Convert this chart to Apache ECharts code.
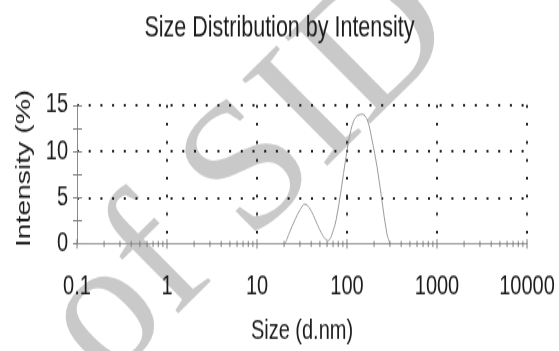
<!DOCTYPE html>
<html><head><meta charset="utf-8">
<script src="https://cdn.jsdelivr.net/npm/echarts@6/dist/echarts.min.js"></script>
<style>
html,body{margin:0;padding:0;background:#fff;overflow:hidden}
#wrap{width:559px;height:351px;overflow:hidden;position:relative;background:#fff}
#chart{width:559px;height:260px;transform:scaleY(1.35);transform-origin:0 0}
</style></head><body>
<div id="wrap"><div id="chart"></div></div>
<script>
// Data (size in d.nm, intensity in %)
const sizes = [20.5, 23.1, 26.4, 29.7, 34.0, 38.2, 42.3, 46.8, 51.8, 56.6, 61.8, 68.4, 75.7, 85.9, 97.5, 110.5, 125.3, 148, 168, 190, 216, 244, 277, 301];
const intensity = [0, 1.3, 2.6, 3.6, 4.3, 3.9, 3.1, 2.1, 1.2, 0.6, 0.35, 1.1, 2.6, 5.8, 9.4, 12.3, 13.7, 14.0, 13.4, 11.2, 8.3, 4.75, 1.15, 0];
const baselineSizes = [0.1, 20.5, 301, 10000];
const baselineValues = [0, 0, 0, 0];
const xTickLabels = ['0.1', '1', '10', '100', '1000', '10000'];
const xDecades = [0.1, 1, 10, 100, 1000, 10000];
const xMinorMultipliers = [2, 3, 4, 5, 6, 7, 8, 9];
const yTickValues = [0, 5, 10, 15];

const xMinorTicks = [];
xDecades.slice(0, -1).forEach(d => xMinorMultipliers.forEach(m => xMinorTicks.push(d * m)));

const FONT = 'Liberation Sans';
const TXT = '#1c1c1c';
const STRETCH = 1.35;

const chart = echarts.init(document.getElementById('chart'), null, {renderer: 'canvas'});

function tickRenderer(half) {
  return function (params, api) {
    const p = api.coord([api.value(0), 0]);
    return {
      type: 'line',
      shape: {x1: p[0], y1: p[1] - half, x2: p[0], y2: p[1] + half},
      style: {stroke: '#7a7a7a', lineWidth: 1}
    };
  };
}

chart.setOption({
  animation: false,
  backgroundColor: '#fff',
  title: {
    text: 'Size Distribution by Intensity',
    left: 'center', top: 10, padding: 0,
    textStyle: {fontFamily: FONT, fontSize: 21.5, fontWeight: 'normal', color: TXT}
  },
  graphic: [{
    type: 'group', x: 0, y: 0, scaleY: 1 / STRETCH, z: -10, silent: true,
    children: [{
      type: 'text', x: 250, y: 174, rotation: 0.78, z: -10, silent: true,
      style: {text: 'of SID', font: '185px "Liberation Serif"', fill: '#c9c9c9', align: 'center', verticalAlign: 'middle'}
    }]
  }],
  grid: {left: 77, right: 32, top: 77.8, bottom: 79.3, containLabel: false},
  xAxis: {
    type: 'log', logBase: 10, min: 0.1, max: 10000, splitNumber: 5,
    axisLine: {show: true, lineStyle: {color: '#8a8a8a', width: 1}},
    axisTick: {show: false},
    minorTick: {show: false},
    axisLabel: {
      fontFamily: FONT, fontSize: 20, color: TXT, margin: 22,
      formatter: v => xTickLabels[Math.round(Math.log10(v)) + 1]
    },
    splitLine: {show: true, showMinLine: false, lineStyle: {color: '#222', width: 2, type: [2, 11.3]}},
    name: 'Size (d.nm)', nameLocation: 'middle', nameGap: 55,
    nameTextStyle: {fontFamily: FONT, fontSize: 20, color: TXT}
  },
  yAxis: [{
    type: 'value', min: 0, max: 15, interval: 5, position: 'left',
    axisLine: {show: true, lineStyle: {color: '#8a8a8a', width: 1}},
    axisTick: {show: true, length: 4, lineStyle: {color: '#7a7a7a'}},
    minorTick: {show: true, splitNumber: 2, length: 4, lineStyle: {color: '#7a7a7a'}},
    axisLabel: {fontFamily: FONT, fontSize: 20, color: TXT, margin: 9,
      formatter: v => (yTickValues.indexOf(v) >= 0 ? String(v) : '')},
    splitLine: {show: true, showMinLine: false, lineStyle: {color: '#222', width: 2, type: [2, 9.7]}},
    name: 'Intensity (%)', nameLocation: 'middle', nameGap: 42,
    nameTextStyle: {fontFamily: FONT, fontSize: 21, color: TXT, padding: [0, 0, 0, 9]}
  }, {
    type: 'value', min: 0, max: 15, interval: 5, position: 'left', offset: 0,
    axisLine: {show: false},
    axisTick: {show: true, inside: true, length: 5, lineStyle: {color: '#7a7a7a'}},
    minorTick: {show: true, splitNumber: 2, length: 5, lineStyle: {color: '#7a7a7a'}},
    axisLabel: {show: false},
    splitLine: {show: false}
  }],
  series: [{
    type: 'line', name: 'baseline', silent: true,
    data: baselineSizes.map((s, i) => [s, baselineValues[i]]),
    showSymbol: false, lineStyle: {color: '#9a9a9a', width: 1}, z: 3
  }, {
    type: 'line', name: 'Intensity', silent: true,
    data: sizes.map((s, i) => [s, intensity[i]]),
    smooth: 0.35, showSymbol: false,
    lineStyle: {color: '#9a9a9a', width: 1}, z: 4
  }, {
    type: 'custom', name: 'xMinorTicks', silent: true,
    data: xMinorTicks.map(v => [v, 0]),
    renderItem: tickRenderer(2.2), z: 5
  }, {
    type: 'custom', name: 'xMajorTicks', silent: true,
    data: xDecades.map(v => [v, 0]),
    renderItem: tickRenderer(3.5), z: 5
  }]
});
</script>
</body></html>
